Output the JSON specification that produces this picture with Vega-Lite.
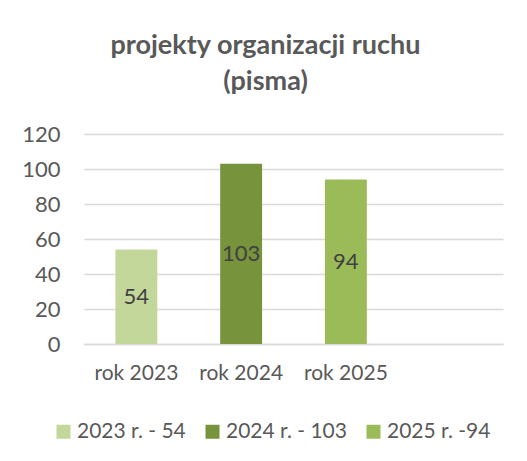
{
  "$schema": "https://vega.github.io/schema/vega-lite/v6.json",
  "width": 419,
  "height": 210,
  "autosize": {"type": "none"},
  "padding": {"left": 84, "top": 134, "right": 24, "bottom": 117},
  "background": "white",
  "title": {
    "text": ["projekty organizacji ruchu", "(pisma)"],
    "font": "Lato",
    "fontSize": 27,
    "fontWeight": "bold",
    "color": "#595959",
    "anchor": "middle",
    "dx": -28,
    "offset": 27,
    "lineHeight": 36
  },
  "data": {
    "values": [
      {"rok": "rok 2023", "value": 54, "seria": "2023 r. - 54"},
      {"rok": "rok 2024", "value": 103, "seria": "2024 r. - 103"},
      {"rok": "rok 2025", "value": 94, "seria": "2025 r. -94"}
    ]
  },
  "encoding": {
    "x": {
      "field": "rok",
      "type": "nominal",
      "sort": null,
      "scale": {"domain": ["rok 2023", "rok 2024", "rok 2025", " "], "paddingInner": 0.6, "paddingOuter": 0.3},
      "axis": {
        "title": null,
        "labelAngle": 0,
        "labelFont": "Lato",
        "labelFontSize": 21,
        "labelColor": "#595959",
        "labelPadding": 18,
        "ticks": false,
        "domainColor": "#d9d9d9",
        "domainWidth": 1.5
      }
    }
  },
  "layer": [
    {
      "mark": {"type": "bar"},
      "encoding": {
        "y": {
          "field": "value",
          "type": "quantitative",
          "scale": {"domain": [0, 120]},
          "axis": {
            "title": null,
            "values": [0, 20, 40, 60, 80, 100, 120],
            "labelOverlap": false,
            "labelFont": "Lato",
            "labelFontSize": 22,
            "labelColor": "#595959",
            "labelPadding": 24,
            "ticks": false,
            "domain": false,
            "gridColor": "#d9d9d9",
            "gridWidth": 1.5
          }
        },
        "color": {
          "field": "seria",
          "type": "nominal",
          "scale": {
            "domain": ["2023 r. - 54", "2024 r. - 103", "2025 r. -94"],
            "range": ["#c4d79b", "#77933c", "#9bbb59"]
          },
          "legend": {
            "title": null,
            "orient": "none",
            "direction": "horizontal",
            "legendX": -31,
            "legendY": 287,
            "symbolType": "square",
            "symbolSize": 196,
            "symbolStrokeWidth": 0,
            "symbolOpacity": 1,
            "labelFont": "Lato",
            "labelFontSize": 21,
            "labelColor": "#595959",
            "labelOffset": 3,
            "columnPadding": 16
          }
        }
      }
    },
    {
      "transform": [{"calculate": "datum.value / 2", "as": "mid"}],
      "mark": {"type": "text", "font": "Lato", "fontSize": 22, "color": "#404040", "baseline": "middle"},
      "encoding": {
        "y": {
          "field": "mid",
          "type": "quantitative",
          "axis": {
            "title": null,
            "values": [0, 20, 40, 60, 80, 100, 120],
            "labelOverlap": false,
            "labelFont": "Lato",
            "labelFontSize": 22,
            "labelColor": "#595959",
            "labelPadding": 24,
            "ticks": false,
            "domain": false,
            "gridColor": "#d9d9d9",
            "gridWidth": 1.5
          }
        },
        "text": {"field": "value", "type": "quantitative"}
      }
    }
  ],
  "config": {"view": {"stroke": null}}
}
